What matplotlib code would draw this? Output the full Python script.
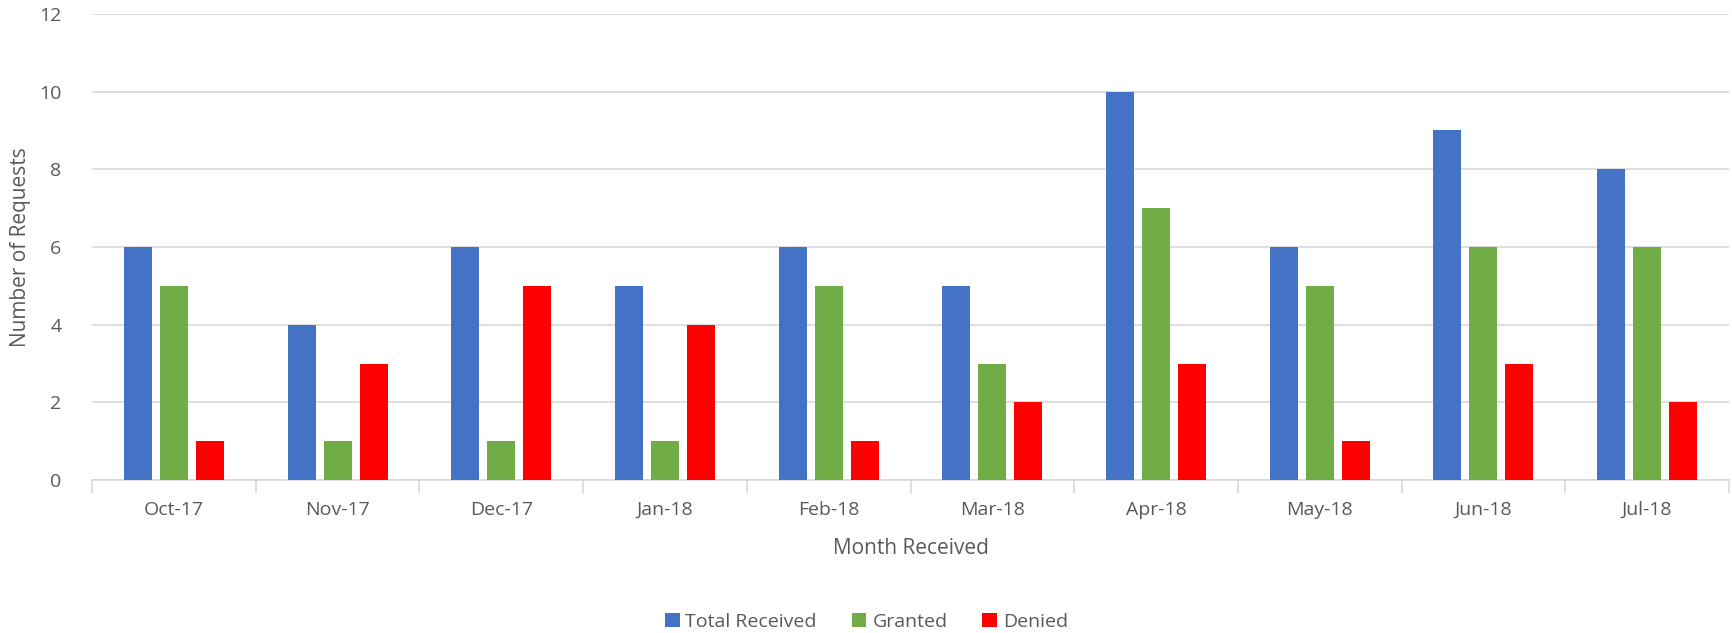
import numpy as np
import matplotlib
matplotlib.use("Agg")
import matplotlib.pyplot as plt

# ---------------- Data ----------------

months = ["Oct-17", "Nov-17", "Dec-17", "Jan-18", "Feb-18",
          "Mar-18", "Apr-18", "May-18", "Jun-18", "Jul-18"]

total_received = [6, 4, 6, 5, 6, 5, 10, 6, 9, 8]
granted = [5, 1, 1, 1, 5, 3, 7, 5, 6, 6]
denied = [1, 3, 5, 4, 1, 2, 3, 1, 3, 2]

series_names = ["Total Received", "Granted", "Denied"]
series_colors = ["#4472C4", "#70AD47", "#FF0000"]

# ---------------- Style ----------------

plt.rcParams["font.family"] = ["Open Sans", "DejaVu Sans"]
text_color = "#595959"
grid_color = "#D9D9D9"

fig = plt.figure(figsize=(17.33, 6.33), dpi=100)
ax = fig.add_axes([0.0531, 0.2417, 0.9446, 0.7362])

x = np.arange(len(months))
bar_w = 0.171
step = 0.22

for i, (vals, name, col) in enumerate(zip([total_received, granted, denied],
                                          series_names, series_colors)):
    ax.bar(x + (i - 1) * step, vals, width=bar_w, color=col, label=name,
           zorder=3)

ax.set_xlim(-0.5, len(months) - 0.5)
ax.set_ylim(0, 12)
ax.set_yticks(range(0, 13, 2))
ax.grid(axis="y", color=grid_color, linewidth=1.2, zorder=0)

ax.set_xticks(x)
ax.set_xticklabels(months)
ax.set_xticks(np.arange(-0.5, len(months), 1), minor=True)
ax.tick_params(axis="x", which="major", length=0, pad=15,
               labelsize=14, labelcolor=text_color)
ax.tick_params(axis="x", which="minor", length=9, color=grid_color, width=1.2)
ax.tick_params(axis="y", length=0, pad=22, labelsize=14,
               labelcolor=text_color)

for side in ["top", "right", "left"]:
    ax.spines[side].set_visible(False)
ax.spines["bottom"].set_color(grid_color)
ax.spines["bottom"].set_linewidth(1.2)

ax.set_xlabel("Month Received", fontsize=15, color=text_color, labelpad=14)
ax.set_ylabel("Number of Requests", fontsize=15, color=text_color)
ax.yaxis.set_label_coords(-0.037, 0.5)

ax.legend(loc="center", bbox_to_anchor=(0.5, 0.018),
          bbox_transform=fig.transFigure, ncol=3, frameon=False,
          fontsize=14, labelcolor=text_color, handlelength=0.75,
          handleheight=0.75, handletextpad=0.3, columnspacing=1.8)

plt.savefig("out.png", dpi=100)
plt.close()
